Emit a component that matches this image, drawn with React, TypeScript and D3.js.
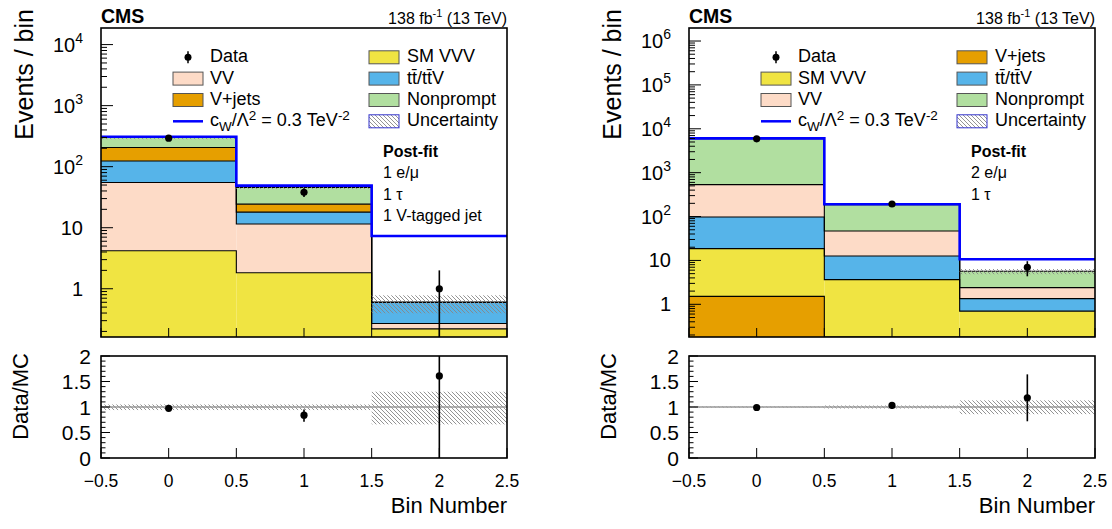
import React from "react";
import * as d3 from "d3";

const FONT = "'Liberation Sans', Arial, Helvetica, sans-serif";

// ---------- shared ----------
const binEdges = [-0.5, 0.5, 1.5, 2.5];
const binCenters = [0, 1, 2];
const xTickValues = [-0.5, 0, 0.5, 1, 1.5, 2, 2.5];
const xTickLabels = ["\u22120.5", "0", "0.5", "1", "1.5", "2", "2.5"];
const ratioTickValues = [0, 0.5, 1, 1.5, 2];
const ratioTickLabels = ["0", "0.5", "1", "1.5", "2"];

const colors: Record<string, string> = {
  "SM VVV": "#f0e442",
  VV: "#fddbc7",
  "V+jets": "#e69f00",
  "tt/ttV": "#56b4e9",
  Nonprompt: "#b1dfa0",
};

// ---------- left panel: 1 e/mu, 1 tau, 1 V-tagged jet ----------
const leftStackOrder = ["SM VVV", "VV", "tt/ttV", "V+jets", "Nonprompt"];
const leftSMVVV = [4.2, 1.83, 0.22];
const leftVV = [50.8, 9.7, 0.05];
const leftTT = [69, 6.5, 0.33];
const leftVjets = [82, 6.3, 0];
const leftNonprompt = [94, 21.4, 0];
const leftData = [293, 38, 1];
const leftDataErrUp = [17, 6.2, 1.0];
const leftDataErrDown = [17, 6.2, 1.0];
const leftSignal = [310, 49, 7.3];
const leftRatio = [0.975, 0.84, 1.61];
const leftRatioErrUp = [0.03, 0.11, 1.6];
const leftRatioErrDown = [0.03, 0.13, 1.61];
const leftUncUp = [0.05, 0.05, 0.3];
const leftUncDown = [0.06, 0.06, 0.34];
const leftLogTicks = [0, 1, 2, 3, 4];
const leftYDomain = [0.162, 18700];
const leftLegendCol1 = ["Data", "VV", "V+jets", "Signal"];
const leftLegendCol2 = ["SM VVV", "tt/ttV", "Nonprompt", "Uncertainty"];
const leftPostfit = ["1 e/\u03bc", "1 \u03c4", "1 V-tagged jet"];

// ---------- right panel: 2 e/mu, 1 tau ----------
const rightStackOrder = ["V+jets", "SM VVV", "tt/ttV", "VV", "Nonprompt"];
const rightVjets = [1.52, 0, 0];
const rightSMVVV = [17.1, 3.66, 0.7];
const rightTT = [79, 8.94, 0.65];
const rightVV = [437, 34.3, 1.05];
const rightNonprompt = [5435, 140, 3.25];
const rightData = [5900, 193, 7];
const rightDataErrUp = [77, 14, 2.6];
const rightDataErrDown = [77, 14, 2.65];
const rightSignal = [6050, 190, 10.6];
const rightRatio = [0.99, 1.03, 1.18];
const rightRatioErrUp = [0.015, 0.07, 0.46];
const rightRatioErrDown = [0.015, 0.07, 0.46];
const rightUncUp = [0.01, 0.03, 0.13];
const rightUncDown = [0.01, 0.03, 0.14];
const rightLogTicks = [0, 1, 2, 3, 4, 5, 6];
const rightYDomain = [0.18, 1.98e6];
const rightLegendCol1 = ["Data", "SM VVV", "VV", "Signal"];
const rightLegendCol2 = ["V+jets", "tt/ttV", "Nonprompt", "Uncertainty"];
const rightPostfit = ["2 e/\u03bc", "1 \u03c4"];

const TOP_Y0 = 28;
const TOP_Y1 = 337;
const RAT_Y0 = 356;
const RAT_Y1 = 458;

function LegendLabel({ name }: { name: string }) {
  if (name === "tt/ttV") {
    return <tspan>{"tt\u0304/tt\u0304V"}</tspan>;
  }
  if (name === "Signal") {
    return (
      <>
        <tspan>c</tspan>
        <tspan fontSize={13.5} dy={5}>W</tspan>
        <tspan dy={-5}>/{"\u039b"}</tspan>
        <tspan fontSize={13.5} dy={-6.5}>2</tspan>
        <tspan dy={6.5}> = 0.3 TeV</tspan>
        <tspan fontSize={13.5} dy={-6.5}>-2</tspan>
      </>
    );
  }
  return <tspan>{name}</tspan>;
}

function Panel(props: any) {
  const {
    id, x0, x1, yDomain, logTicks, order, values, data, dataUp, dataDown, signal,
    ratio, ratioUp, ratioDown, uncUp, uncDown, col1, col2, postfit,
  } = props;
  const x = d3.scaleLinear().domain([-0.5, 2.5]).range([x0, x1]);
  const y = d3.scaleLog().domain(yDomain).range([TOP_Y1, TOP_Y0]);
  const yr = d3.scaleLinear().domain([0, 2]).range([RAT_Y1, RAT_Y0]);
  const ymin = yDomain[0];
  const cy = (v: number) => y(Math.max(v, ymin));

  // cumulative
  const cum: number[][] = [];
  let prev = [0, 0, 0];
  order.forEach((name: string) => {
    const v = values[name];
    const c = prev.map((p, i) => p + v[i]);
    cum.push(c);
    prev = c;
  });
  const total = prev;

  const stepPath = (vals: number[], f: (v: number) => number) => {
    let p = `M${x(binEdges[0])},${f(vals[0])}`;
    vals.forEach((v, i) => {
      if (i > 0) p += `V${f(v)}`;
      p += `H${x(binEdges[i + 1])}`;
    });
    return p;
  };

  // log ticks
  const majors = logTicks.map((e: number) => Math.pow(10, e));
  const minors: number[] = [];
  for (let e = -1; e <= logTicks[logTicks.length - 1]; e++) {
    for (let k = 2; k <= 9; k++) {
      const v = k * Math.pow(10, e);
      if (v >= yDomain[0] && v <= yDomain[1]) minors.push(v);
    }
  }
  const ratioMinors = d3.range(0, 2.0001, 0.1).filter((v) => Math.abs(v * 2 - Math.round(v * 2)) > 1e-6);

  const legRows = [62.3, 83.6, 105, 126.3];
  const renderLegendItem = (name: string, col: number, row: number) => {
    const base = legRows[row];
    const boxX = col === 0 ? x0 + 72 : x0 + 268;
    const textX = col === 0 ? x0 + 109 : x0 + 306;
    let sym: any = null;
    if (name === "Data") {
      const mx = x0 + 87;
      sym = (
        <g>
          <line x1={mx} x2={mx} y1={base - 11} y2={base + 1} stroke="#000" strokeWidth={1.5} />
          <circle cx={mx} cy={base - 5} r={3.5} fill="#000" />
        </g>
      );
    } else if (name === "Signal") {
      sym = <line x1={boxX} x2={boxX + 30} y1={base - 5} y2={base - 5} stroke="#0000ff" strokeWidth={2.5} />;
    } else if (name === "Uncertainty") {
      sym = <rect x={boxX} y={base - 11.5} width={30} height={13} fill={`url(#hatch-${id})`} stroke="#3333cc" strokeWidth={1} />;
    } else {
      sym = <rect x={boxX} y={base - 11.5} width={30} height={13} fill={colors[name]} stroke="#555" strokeWidth={1} />;
    }
    return (
      <g key={`${col}-${row}`}>
        {sym}
        <text x={textX} y={base} fontSize={18} fontFamily={FONT} fill="#000">
          <LegendLabel name={name} />
        </text>
      </g>
    );
  };

  return (
    <g>
      <defs>
        <pattern id={`hatch-${id}`} patternUnits="userSpaceOnUse" width={4} height={4}>
          <path d="M-1,-1 L5,5 M-1,3 L1,5 M3,-1 L5,1" stroke="#888" strokeWidth={0.9} />
        </pattern>
        <clipPath id={`clipTop-${id}`}>
          <rect x={x0} y={TOP_Y0} width={x1 - x0} height={TOP_Y1 - TOP_Y0} />
        </clipPath>
        <clipPath id={`clipRat-${id}`}>
          <rect x={x0} y={RAT_Y0} width={x1 - x0} height={RAT_Y1 - RAT_Y0} />
        </clipPath>
      </defs>

      {/* ---------- top panel ---------- */}
      <g clipPath={`url(#clipTop-${id})`}>
        {order.map((name: string, k: number) => {
          const lower = k === 0 ? [0, 0, 0] : cum[k - 1];
          const upper = cum[k];
          return binCenters.map((_, i) => {
            if (upper[i] <= lower[i]) return null;
            const yt = cy(upper[i]);
            const yb = cy(lower[i]);
            return (
              <rect key={`${name}-${i}`} x={x(binEdges[i])} width={x(binEdges[i + 1]) - x(binEdges[i])}
                y={yt} height={Math.max(0, yb - yt)} fill={colors[name]} />
            );
          });
        })}
        {order.map((name: string, k: number) => (
          <path key={`o-${name}`} d={stepPath(cum[k], cy)} fill="none" stroke="#000" strokeWidth={1.1} />
        ))}
        {binCenters.map((_, i) => {
          const yt = cy(total[i] * (1 + uncUp[i]));
          const yb = cy(total[i] * (1 - uncDown[i]));
          return (
            <rect key={`u-${i}`} x={x(binEdges[i])} width={x(binEdges[i + 1]) - x(binEdges[i])}
              y={yt} height={yb - yt} fill={`url(#hatch-${id})`} />
          );
        })}
        <path d={stepPath(signal, cy)} fill="none" stroke="#0000ff" strokeWidth={2.6} />
        {binCenters.map((c, i) => (
          <g key={`d-${i}`}>
            <line x1={x(c)} x2={x(c)} y1={cy(data[i] + dataUp[i])} y2={cy(data[i] - dataDown[i])} stroke="#000" strokeWidth={1.6} />
            <circle cx={x(c)} cy={cy(data[i])} r={3.6} fill="#000" />
          </g>
        ))}
      </g>
      {/* y ticks */}
      {majors.map((v: number) => (
        <line key={`mj-${v}`} x1={x0} x2={x0 + 12} y1={y(v)} y2={y(v)} stroke="#000" strokeWidth={1} />
      ))}
      {minors.map((v: number) => (
        <line key={`mn-${v}`} x1={x0} x2={x0 + 6} y1={y(v)} y2={y(v)} stroke="#000" strokeWidth={1} />
      ))}
      {xTickValues.map((v) => (
        <line key={`xt-${v}`} x1={x(v)} x2={x(v)} y1={TOP_Y1} y2={TOP_Y1 - 9} stroke="#000" strokeWidth={1} />
      ))}
      {logTicks.map((e: number) => (
        <text key={`yl-${e}`} x={x0 - 18} y={y(Math.pow(10, e)) + 7} textAnchor="end" fontSize={20} fontFamily={FONT}>
          {e === 0 ? "1" : e === 1 ? "10" : (
            <>
              <tspan>10</tspan>
              <tspan fontSize={14} dy={-9}>{e}</tspan>
            </>
          )}
        </text>
      ))}
      <rect x={x0} y={TOP_Y0} width={x1 - x0} height={TOP_Y1 - TOP_Y0} fill="none" stroke="#000" strokeWidth={1.6} />
      <text transform={`translate(${x0 - 68},9) rotate(-90)`} textAnchor="end" fontSize={25} fontFamily={FONT}>Events / bin</text>
      <text x={x0} y={23} fontSize={19.5} fontWeight="bold" fontFamily={FONT}>CMS</text>
      <text x={x1} y={24} textAnchor="end" fontSize={16} fontFamily={FONT}>
        <tspan>138 fb</tspan>
        <tspan fontSize={11} dy={-7}>-1</tspan>
        <tspan dy={7}> (13 TeV)</tspan>
      </text>

      {/* legend */}
      {col1.map((n: string, r: number) => renderLegendItem(n, 0, r))}
      {col2.map((n: string, r: number) => renderLegendItem(n, 1, r))}
      <text x={x0 + 282} y={157.3} fontSize={16} fontWeight="bold" fontFamily={FONT}>Post-fit</text>
      {postfit.map((t: string, i: number) => (
        <text key={`pf-${i}`} x={x0 + 282} y={178.3 + i * 21.3} fontSize={16} fontFamily={FONT}>{t}</text>
      ))}

      {/* ---------- ratio panel ---------- */}
      <g clipPath={`url(#clipRat-${id})`}>
        {binCenters.map((_, i) => (
          <rect key={`ru-${i}`} x={x(binEdges[i])} width={x(binEdges[i + 1]) - x(binEdges[i])}
            y={yr(1 + uncUp[i])} height={yr(1 - uncDown[i]) - yr(1 + uncUp[i])} fill={`url(#hatch-${id})`} />
        ))}
        <line x1={x0} x2={x1} y1={yr(1)} y2={yr(1)} stroke="#999" strokeWidth={1.5} />
        {binCenters.map((c, i) => (
          <g key={`rd-${i}`}>
            <line x1={x(c)} x2={x(c)} y1={yr(ratio[i] + ratioUp[i])} y2={yr(ratio[i] - ratioDown[i])} stroke="#000" strokeWidth={1.6} />
            <circle cx={x(c)} cy={yr(ratio[i])} r={3.6} fill="#000" />
          </g>
        ))}
      </g>
      {ratioTickValues.map((v) => (
        <line key={`rt-${v}`} x1={x0} x2={x0 + 9} y1={yr(v)} y2={yr(v)} stroke="#000" strokeWidth={1} />
      ))}
      {ratioMinors.map((v: number) => (
        <line key={`rm-${v}`} x1={x0} x2={x0 + 4.5} y1={yr(v)} y2={yr(v)} stroke="#000" strokeWidth={1} />
      ))}
      {xTickValues.map((v) => (
        <line key={`rxt-${v}`} x1={x(v)} x2={x(v)} y1={RAT_Y1} y2={RAT_Y1 - 10} stroke="#000" strokeWidth={1} />
      ))}
      <rect x={x0} y={RAT_Y0} width={x1 - x0} height={RAT_Y1 - RAT_Y0} fill="none" stroke="#000" strokeWidth={1.6} />
      {ratioTickValues.map((v, i) => (
        <text key={`rl-${v}`} x={x0 - 10} y={yr(v) + 7.5} textAnchor="end" fontSize={21} fontFamily={FONT}>{ratioTickLabels[i]}</text>
      ))}
      {xTickValues.map((v, i) => (
        <text key={`xl-${v}`} x={x(v)} y={486.7} textAnchor="middle" fontSize={17.5} fontFamily={FONT}>{xTickLabels[i]}</text>
      ))}
      <text transform={`translate(${x0 - 73},353) rotate(-90)`} textAnchor="end" fontSize={22} fontFamily={FONT}>Data/MC</text>
      <text x={x1} y={513} textAnchor="end" fontSize={22} fontFamily={FONT}>Bin Number</text>
    </g>
  );
}

export default function App() {
  return (
    <svg width={1112} height={529} style={{ position: "absolute", left: 0, top: 0, background: "#fff" }}>
      <rect x={0} y={0} width={1112} height={529} fill="#fff" />
      <Panel
        id="L" x0={101} x1={507} yDomain={leftYDomain} logTicks={leftLogTicks}
        order={leftStackOrder}
        values={{ "SM VVV": leftSMVVV, VV: leftVV, "tt/ttV": leftTT, "V+jets": leftVjets, Nonprompt: leftNonprompt }}
        data={leftData} dataUp={leftDataErrUp} dataDown={leftDataErrDown} signal={leftSignal}
        ratio={leftRatio} ratioUp={leftRatioErrUp} ratioDown={leftRatioErrDown}
        uncUp={leftUncUp} uncDown={leftUncDown}
        col1={leftLegendCol1} col2={leftLegendCol2} postfit={leftPostfit}
      />
      <Panel
        id="R" x0={689} x1={1095} yDomain={rightYDomain} logTicks={rightLogTicks}
        order={rightStackOrder}
        values={{ "V+jets": rightVjets, "SM VVV": rightSMVVV, "tt/ttV": rightTT, VV: rightVV, Nonprompt: rightNonprompt }}
        data={rightData} dataUp={rightDataErrUp} dataDown={rightDataErrDown} signal={rightSignal}
        ratio={rightRatio} ratioUp={rightRatioErrUp} ratioDown={rightRatioErrDown}
        uncUp={rightUncUp} uncDown={rightUncDown}
        col1={rightLegendCol1} col2={rightLegendCol2} postfit={rightPostfit}
      />
    </svg>
  );
}
